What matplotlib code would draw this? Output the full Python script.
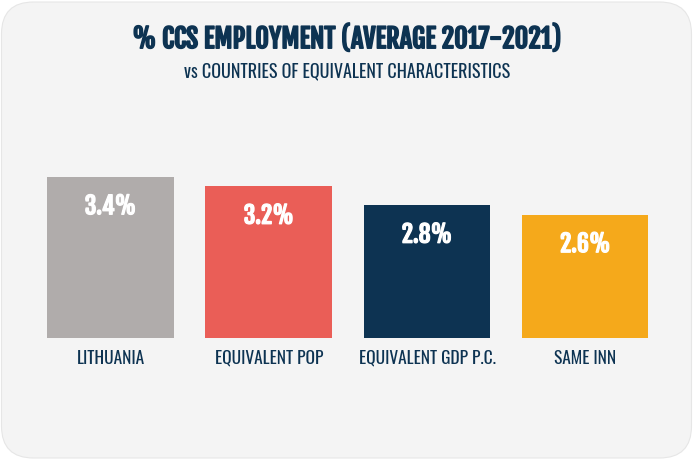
import matplotlib
matplotlib.use("Agg")
import matplotlib.pyplot as plt
import matplotlib.patheffects as pe
from matplotlib.patches import FancyBboxPatch

# datos
categorias = ["LITHUANIA", "EQUIVALENT POP", "EQUIVALENT GDP P.C.", "SAME INN"]
valores = [3.4, 3.2, 2.8, 2.6]
colores = ["#b0acab", "#ea5e57", "#0d3352", "#f5a91b"]
etiquetas = ["3.4%", "3.2%", "2.8%", "2.6%"]

navy = "#0d3352"
fuente_titulo = ["Fjalla One", "DejaVu Sans"]
fuente = ["Oswald", "DejaVu Sans"]

fig = plt.figure(figsize=(6.94, 4.61), dpi=100)
fig.patch.set_facecolor("white")

# fondo redondeado
bg = fig.add_axes([0, 0, 1, 1])
bg.set_xlim(0, 694)
bg.set_ylim(0, 461)
bg.axis("off")
bg.add_patch(FancyBboxPatch((1.5, 3), 690, 456, boxstyle="round,pad=0,rounding_size=32",
                            facecolor="#f4f4f4", edgecolor="#e6e6e6", linewidth=0.8))

# titulos
fig.text(0.5, 0.915, "% CCS EMPLOYMENT (AVERAGE 2017-2021)", ha="center", va="center",
         fontsize=19, color=navy, family=fuente_titulo,
         path_effects=[pe.withStroke(linewidth=1.1, foreground=navy)])
fig.text(0.5, 0.845, "vs COUNTRIES OF EQUIVALENT CHARACTERISTICS", ha="center", va="center",
         fontsize=13, color=navy, family=fuente)

# barras
ax = fig.add_axes([0.0452, 0.2668, 0.912, 0.411])
ax.set_facecolor("none")
x = range(len(categorias))
ax.bar(x, valores, width=0.8, color=colores)
ax.set_xlim(-0.5, 3.5)
ax.set_ylim(0, 4)

for xi, v, t in zip(x, valores, etiquetas):
    ax.text(xi, v - 0.62, t, ha="center", va="center", fontsize=17,
            color="white", family=fuente_titulo,
            path_effects=[pe.withStroke(linewidth=0.9, foreground="white")])

ax.set_xticks(list(x))
ax.set_xticklabels(categorias, fontsize=12.5, color=navy, family=fuente)
ax.tick_params(axis="x", length=0, pad=8.5)
ax.set_yticks([])
for s in ax.spines.values():
    s.set_visible(False)

fig.savefig("out.png", dpi=100, facecolor="white")
